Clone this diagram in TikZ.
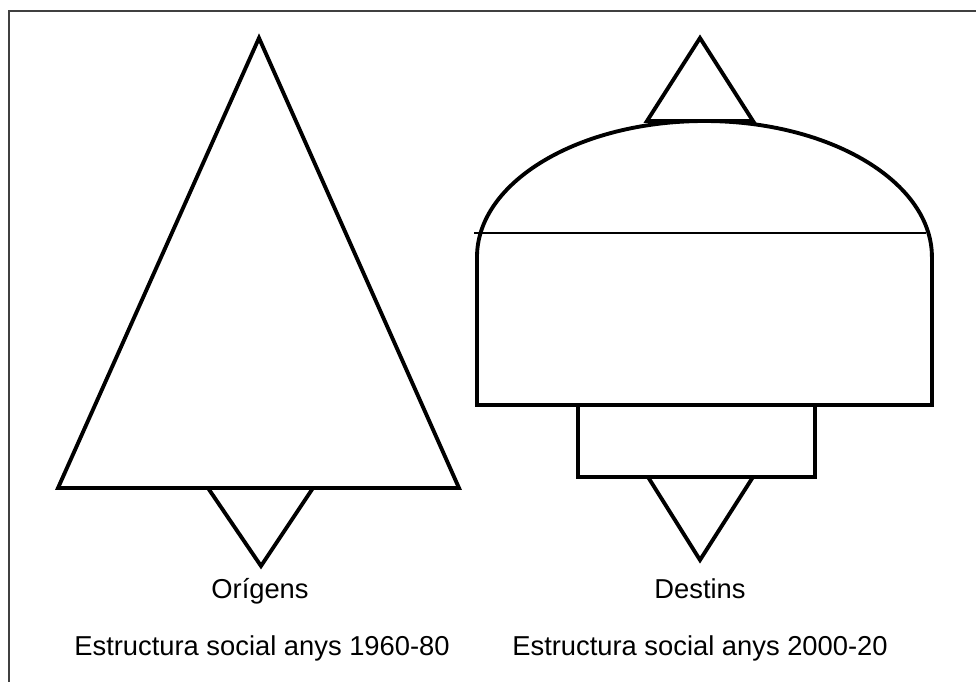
\documentclass[tikz,border=0pt]{standalone}
\usepackage{fontspec}
\setmainfont{Liberation Sans}
\usetikzlibrary{positioning}

\begin{document}
\begin{tikzpicture}[
        x=0.75pt,y=-0.75pt,
        outline/.style={draw=black,line width=2.9pt,line join=miter},
        divider/.style={draw=black,line width=1.8pt},
        lbl/.style={font=\fontsize{20.5}{24}\selectfont,anchor=base,inner sep=0pt}
      ]
      \useasboundingbox (0,0) rectangle (976,682);
      \draw[line width=1.5pt,draw=black!75] (9,682) -- (9,11) -- (976,11);

      % origens
      \draw[outline] (259,38) -- (459,488) -- (58,488) -- cycle;
      \draw[outline] (208,488) -- (313,488) -- (261,566) -- cycle;

      % destins
      \draw[outline] (647,121) -- (753,121) -- (700,38) -- cycle;
      \draw[outline] (477,405) -- (477,257) arc[start angle=180,end angle=0,x radius=170.6pt,y radius=102pt] -- (932,405) -- cycle;
      \draw[divider] (474,233) -- (926,233);
      \draw[outline] (578,405) rectangle (815,477);
      \draw[outline] (648,477) -- (753,477) -- (700,560) -- cycle;

      \node[lbl] (orig) at (260,598) {Orígens};
      \node[lbl] (dest) at (700,598) {Destins};
      \node[lbl] (est1) at (262,655) {Estructura social anys 1960-80};
      \node[lbl] (est2) at (700,655) {Estructura social anys 2000-20};
    \end{tikzpicture}
\end{document}
